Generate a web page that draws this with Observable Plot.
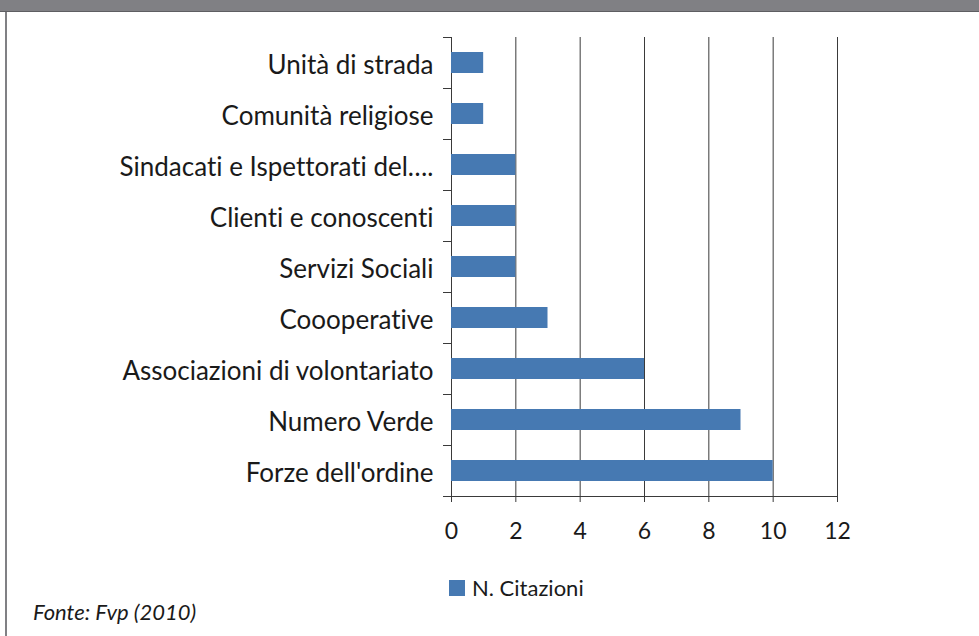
<!DOCTYPE html>
<html>
<head>
<meta charset="utf-8">
<script src="https://cdn.jsdelivr.net/npm/d3@7"></script>
<script src="https://cdn.jsdelivr.net/npm/@observablehq/plot@0.6"></script>
<style>
  html, body { margin: 0; padding: 0; background: #fff; }
  #wrap { position: relative; width: 979px; height: 636px; overflow: hidden; font-family: Lato, "Liberation Sans", Arial, sans-serif; color: #1a1a1a; font-variant-ligatures: none; }
  #wrap svg text { font-variant-ligatures: none; }
  #topband { position: absolute; left: 0; top: 0; width: 979px; height: 11px; background: #808084; border-bottom: 1px solid #5e5e62; }
  #leftline { position: absolute; left: 5px; top: 12px; width: 2px; height: 624px; background: #808084; }
  #chart { position: absolute; left: 0; top: 0; }
  #legend { position: absolute; left: 449px; top: 574px; font-size: 22px; display: flex; align-items: center; }
  #legend .sw { width: 16px; height: 16px; background: #4679b2; margin-right: 7px; }
  #caption { position: absolute; left: 33px; top: 598px; font-size: 22px; font-style: italic; }
</style>
</head>
<body>
<div id="wrap">
  <div id="topband"></div>
  <div id="leftline"></div>
  <div id="chart"></div>
  <div id="legend"><div class="sw"></div><span id="legendLabel"></span></div>
  <div id="caption"></div>
</div>
<script>
const categories = [
  "Unità di strada",
  "Comunità religiose",
  "Sindacati e Ispettorati del….",
  "Clienti e conoscenti",
  "Servizi Sociali",
  "Coooperative",
  "Associazioni di volontariato",
  "Numero Verde",
  "Forze dell'ordine"
];
const values = [1, 1, 2, 2, 2, 3, 6, 9, 10];
const xTicks = [0, 2, 4, 6, 8, 10, 12];
const seriesName = "N. Citazioni";
const source = "Fonte: Fvp (2010)";

const data = categories.map((c, i) => ({category: c, value: values[i]}));
const barColor = "#4679b2";
const gridColor = "#3a3a3a";
const step = (496 - 37) / categories.length;

const plot = Plot.plot({
  width: 979,
  height: 560,
  marginLeft: 451,
  marginRight: 142,
  marginTop: 37,
  marginBottom: 64,
  style: {fontFamily: "Lato, 'Liberation Sans', Arial, sans-serif", fontSize: "23px", color: "#1a1a1a", background: "transparent", fontVariantLigatures: "none"},
  x: {domain: [0, 12], ticks: xTicks, label: null},
  y: {domain: categories, paddingInner: 0.59, paddingOuter: 0.295, label: null},
  marks: [
    Plot.gridX(xTicks, {stroke: gridColor, strokeOpacity: 1, strokeWidth: 1}),
    Plot.barX(data, {x: "value", y: "category", fill: barColor}),
    Plot.frame({anchor: "bottom", stroke: gridColor}),
    Plot.ruleY(categories, {y: d => d, x1: 0, x2: 0, insetLeft: -8, dy: -step / 2, stroke: gridColor}),
    Plot.ruleY(categories.slice(-1), {y: d => d, x1: 0, x2: 0, insetLeft: -8, dy: step / 2, stroke: gridColor}),
    Plot.axisX(xTicks, {tickSize: 6, tickPadding: 20, fontSize: 23, stroke: gridColor, label: null}),
    Plot.axisY({tickSize: 0, tickPadding: 18, fontSize: 26, dy: 3, label: null})
  ]
});
document.getElementById("chart").appendChild(plot);
document.getElementById("legendLabel").textContent = seriesName;
document.getElementById("caption").textContent = source;
</script>
</body>
</html>
